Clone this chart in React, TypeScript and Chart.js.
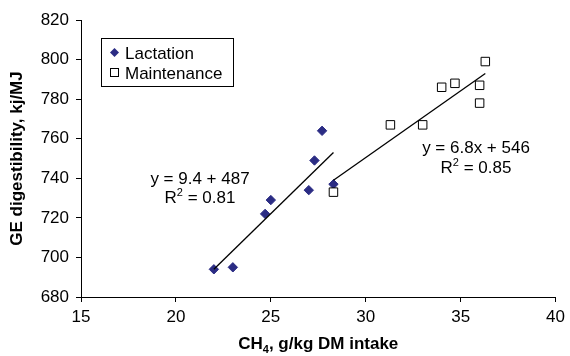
import React, { useEffect, useRef } from "react";
import { Chart, registerables } from "chart.js";

Chart.register(...registerables);

// ---- data ----
const lactationX = [22.0, 23.0, 24.7, 25.0, 27.0, 27.3, 27.7, 28.3];
const lactationY = [694, 695, 722, 729, 734, 749, 764, 737];
const maintenanceX = [28.3, 31.3, 33.0, 34.0, 34.7, 36.0, 36.0, 36.3];
const maintenanceY = [733, 767, 767, 786, 788, 787, 778, 799];
const lactTrendX = [22.0, 28.3];
const lactTrendY = [694, 753];
const maintTrendX = [28.3, 36.3];
const maintTrendY = [739, 793];
const xTicks = [15, 20, 25, 30, 35, 40];
const yTicks = [680, 700, 720, 740, 760, 780, 800, 820];
const seriesLabels = ["Lactation", "Maintenance"];
const eqLact = ["y = 9.4 + 487", "0.81"];
const eqMaint = ["y = 6.8x + 546", "0.85"];
const xTitle = ["CH", "4", ", g/kg DM intake"];
const yTitle = "GE digestibility, kj/MJ";

const NAVY = "#2B2C84";
const FONT = '"Liberation Sans", Arial, sans-serif';
const FS = 17;

const toPts = (xs: number[], ys: number[]) => xs.map((x, i) => ({ x, y: ys[i] }));

const overlay = {
  id: "overlay",
  afterDraw(chart: any) {
    const ctx = chart.ctx as CanvasRenderingContext2D;
    const xs = chart.scales.x;
    const ys = chart.scales.y;
    ctx.save();
    ctx.fillStyle = "#000";

    // legend
    ctx.fillStyle = "#fff";
    ctx.fillRect(101.5, 38.5, 132, 48);
    ctx.strokeStyle = "#000";
    ctx.lineWidth = 1;
    ctx.strokeRect(101.5, 38.5, 132, 48);
    // diamond
    ctx.fillStyle = NAVY;
    ctx.beginPath();
    ctx.moveTo(114.5, 48);
    ctx.lineTo(119, 52.5);
    ctx.lineTo(114.5, 57);
    ctx.lineTo(110, 52.5);
    ctx.closePath();
    ctx.fill();
    // square
    ctx.fillStyle = "#fff";
    ctx.fillRect(110.5, 68.5, 8, 8);
    ctx.strokeRect(110.5, 68.5, 8, 8);
    ctx.fillStyle = "#000";
    ctx.font = `${FS}px ${FONT}`;
    ctx.textAlign = "left";
    ctx.textBaseline = "alphabetic";
    ctx.fillText(seriesLabels[0], 125, 58.5);
    ctx.fillText(seriesLabels[1], 125, 79);

    // equations
    const drawR2 = (cx: number, baseline: number, val: string) => {
      ctx.font = `${FS}px ${FONT}`;
      const wR = ctx.measureText("R").width;
      const rest = " = " + val;
      const wRest = ctx.measureText(rest).width;
      ctx.font = `${11}px ${FONT}`;
      const w2 = ctx.measureText("2").width;
      const total = wR + w2 + wRest;
      let x = cx - total / 2;
      ctx.textAlign = "left";
      ctx.font = `${FS}px ${FONT}`;
      ctx.fillText("R", x, baseline);
      x += wR;
      ctx.font = `${11}px ${FONT}`;
      ctx.fillText("2", x, baseline - 7);
      x += w2;
      ctx.font = `${FS}px ${FONT}`;
      ctx.fillText(rest, x, baseline);
    };
    ctx.font = `${FS}px ${FONT}`;
    ctx.textAlign = "center";
    ctx.fillText(eqLact[0], 200, 183.5);
    drawR2(200, 202.5, eqLact[1]);
    ctx.textAlign = "center";
    ctx.font = `${FS}px ${FONT}`;
    ctx.fillText(eqMaint[0], 476, 152.5);
    drawR2(476, 172.5, eqMaint[1]);

    // x title
    ctx.font = `bold ${FS}px ${FONT}`;
    const w1 = ctx.measureText(xTitle[0]).width;
    const w3 = ctx.measureText(xTitle[2]).width;
    ctx.font = `bold 11px ${FONT}`;
    const w2 = ctx.measureText(xTitle[1]).width;
    const cx = (xs.left + xs.right) / 2;
    let x = cx - (w1 + w2 + w3) / 2;
    ctx.textAlign = "left";
    ctx.font = `bold ${FS}px ${FONT}`;
    ctx.fillText(xTitle[0], x, 349);
    x += w1;
    ctx.font = `bold 11px ${FONT}`;
    ctx.fillText(xTitle[1], x, 353);
    x += w2;
    ctx.font = `bold ${FS}px ${FONT}`;
    ctx.fillText(xTitle[2], x, 349);

    // y title
    ctx.save();
    ctx.translate(22, (ys.top + ys.bottom) / 2);
    ctx.rotate(-Math.PI / 2);
    ctx.textAlign = "center";
    ctx.font = `bold ${FS}px ${FONT}`;
    ctx.fillText(yTitle, 0, 0);
    ctx.restore();

    ctx.restore();
  },
};

export default function App() {
  const ref = useRef<HTMLCanvasElement | null>(null);
  useEffect(() => {
    if (!ref.current) return;
    const chart = new Chart(ref.current, {
      type: "scatter",
      data: {
        datasets: [
          {
            label: "trendL",
            data: toPts(lactTrendX, lactTrendY),
            showLine: true,
            borderColor: "#000",
            borderWidth: 1.3,
            pointRadius: 0,
            order: 0,
          } as any,
          {
            label: "trendM",
            data: toPts(maintTrendX, maintTrendY),
            showLine: true,
            borderColor: "#000",
            borderWidth: 1.3,
            pointRadius: 0,
            order: 0,
          } as any,
          {
            label: seriesLabels[1],
            data: toPts(maintenanceX, maintenanceY),
            pointStyle: "rect",
            pointRadius: 6,
            backgroundColor: "#fff",
            borderColor: "#000",
            borderWidth: 1,
            order: 1,
          } as any,
          {
            label: seriesLabels[0],
            data: toPts(lactationX, lactationY),
            pointStyle: "rectRot",
            pointRadius: 4.7,
            backgroundColor: NAVY,
            borderColor: NAVY,
            borderWidth: 1,
            order: 2,
          } as any,
        ],
      },
      options: {
        animation: false,
        responsive: true,
        maintainAspectRatio: false,
        layout: { padding: { top: 20, right: 10, left: 0, bottom: 0 } },
        plugins: { legend: { display: false }, tooltip: { enabled: false } },
        scales: {
          x: {
            type: "linear",
            min: xTicks[0],
            max: xTicks[xTicks.length - 1],
            afterBuildTicks: (s: any) => {
              s.ticks = xTicks.map((v) => ({ value: v }));
            },
            afterFit: (s: any) => {
              s.height = 59;
            },
            ticks: { color: "#000", font: { family: FONT, size: FS }, padding: 5, maxRotation: 0 },
            grid: { drawOnChartArea: false, drawTicks: true, tickLength: 5, tickColor: "#000", tickWidth: 1 },
            border: { display: true, color: "#000", width: 1 },
          },
          y: {
            type: "linear",
            min: yTicks[0],
            max: yTicks[yTicks.length - 1],
            afterBuildTicks: (s: any) => {
              s.ticks = yTicks.map((v) => ({ value: v }));
            },
            afterFit: (s: any) => {
              s.width = 81;
            },
            ticks: { color: "#000", font: { family: FONT, size: FS }, padding: 7 },
            grid: { drawOnChartArea: false, drawTicks: true, tickLength: 5, tickColor: "#000", tickWidth: 1 },
            border: { display: true, color: "#000", width: 1 },
          },
        },
      },
      plugins: [overlay],
    });
    return () => chart.destroy();
  }, []);
  return (
    <div style={{ position: "fixed", left: 0, top: 0, width: 570, height: 356, background: "#fff" }}>
      <canvas ref={ref} />
    </div>
  );
}
